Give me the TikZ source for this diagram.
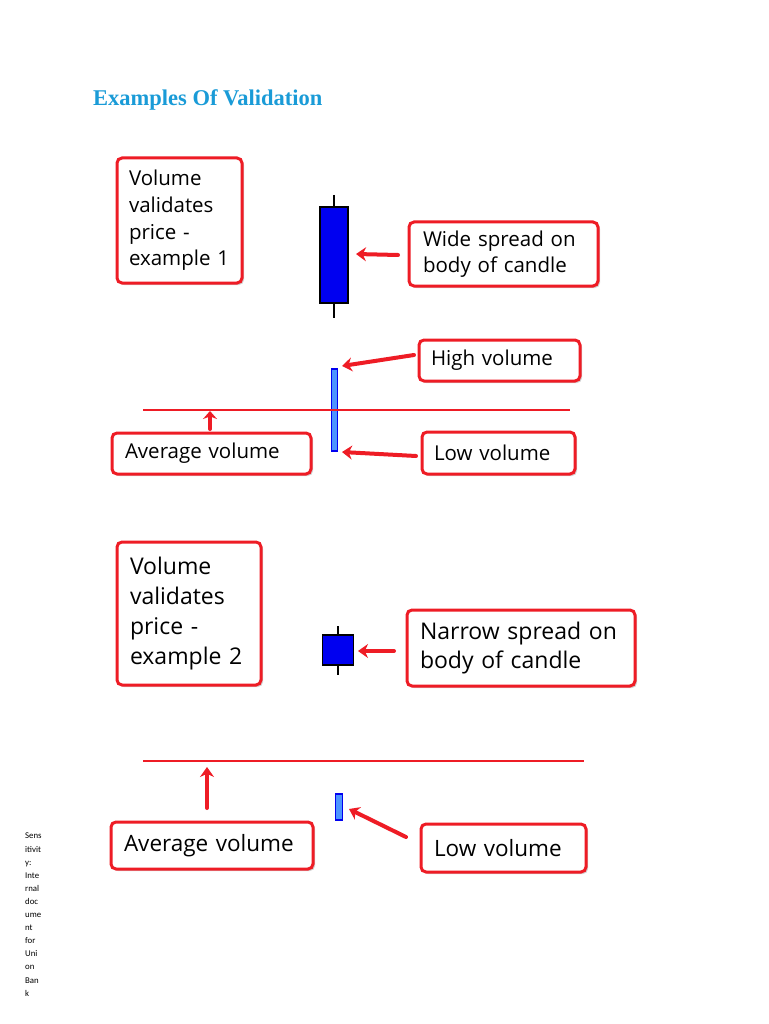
\documentclass[tikz,border=0pt]{standalone}
\usepackage{fontspec}
\setmainfont{Liberation Serif}
\newfontfamily\boxfont{Open Sans}
\newfontfamily\sidefont{Carlito}
\usetikzlibrary{shadows,arrows.meta}
\definecolor{titleblue}{HTML}{1A9BD7}
\definecolor{boxred}{HTML}{EE1C25}
\definecolor{candleblue}{HTML}{0000F0}
\tikzset{
  lbl/.style={draw=boxred, line width=3pt, rounded corners=5pt, fill=white,
    drop shadow={opacity=0.35, shadow xshift=2pt, shadow yshift=-2pt},
    font=\boxfont\fontsize{21.5}{27}\selectfont, align=left, inner sep=0pt, anchor=center},
  redarrow/.style={draw=boxred, line width=4pt, -{Stealth[length=10pt,width=14pt]}, line cap=round},
  avgline/.style={draw=boxred, line width=1.2pt},
  candle/.style={draw=black, line width=1.5pt, fill=candleblue},
  wick/.style={draw=black, line width=2pt},
  volbar/.style={draw=candleblue, line width=1.2pt, fill=blue!60!cyan!70},
}
\begin{document}
\begin{tikzpicture}[x=1pt,y=-1pt]
\useasboundingbox (0,0) rectangle (768,1024);
\node[anchor=west, text=titleblue, font=\bfseries\fontsize{22.5}{26}\selectfont, inner sep=0pt] (title) at (93,100) {Examples Of Validation};

% Example 1
\node[lbl, minimum width=125pt, minimum height=125pt, text width=101pt, font=\boxfont\fontsize{20.5}{26.7}\selectfont] (ex1) at (179.5,220.5) {Volume\\validates\\price -\\example\ 1};
\draw[wick] (334,195) -- (334,318);
\node[candle, minimum width=28pt, minimum height=96pt, inner sep=0pt] (c1) at (334,255) {};
\node[lbl, minimum width=189pt, minimum height=64pt, text width=161pt, font=\boxfont\fontsize{20.5}{26}\selectfont] (wide) at (503.5,254) {Wide spread on\\body of candle};
\coordinate (w1s) at (398,255);
\coordinate (c1r) at (356,254);
\draw[redarrow] (w1s) -- (c1r);

\node[lbl, minimum width=161pt, minimum height=41pt, text width=137pt, font=\boxfont\fontsize{20.5}{26}\selectfont] (high) at (499.5,360.5) {High volume};
\node[lbl, minimum width=199pt, minimum height=41pt, text width=173pt, font=\boxfont\fontsize{20.5}{26}\selectfont] (avg1) at (211.5,453.5) {Average volume};
\node[lbl, minimum width=153pt, minimum height=42pt, text width=129pt, font=\boxfont\fontsize{20.5}{26}\selectfont] (low1) at (498.5,453) {Low volume};
\coordinate (l1a) at (143,410);
\coordinate (l1b) at (570,410);
\node[volbar, minimum width=6pt, minimum height=82pt, inner sep=0pt] (v1) at (334.5,410) {};
\draw[avgline] (l1a) -- (l1b);
\coordinate (hs) at (414,355);
\coordinate (v1top) at (342,366);
\coordinate (ls) at (416,456);
\coordinate (v1bot) at (342,452);
\coordinate (a1s) at (210,429);
\coordinate (a1top) at (210,411);
\draw[redarrow] (hs) -- (v1top);
\draw[redarrow] (ls) -- (v1bot);
\draw[redarrow, -{Stealth[length=8pt,width=14pt]}] (a1s) -- (a1top);

% Example 2
\node[lbl, minimum width=144pt, minimum height=143pt, text width=118pt, font=\boxfont\fontsize{23}{30}\selectfont] (ex2) at (189,613.5) {Volume\\validates\\price -\\example 2};
\draw[wick] (338,626) -- (338,675);
\node[candle, minimum width=31pt, minimum height=30pt, inner sep=0pt] (c2) at (338,650) {};
\node[lbl, minimum width=228pt, minimum height=76pt, text width=202pt, font=\boxfont\fontsize{23}{29}\selectfont] (narrow) at (521,648) {Narrow spread on\\body of candle};
\coordinate (n2s) at (394,651);
\coordinate (c2r) at (358,651);
\draw[redarrow] (n2s) -- (c2r);

\coordinate (l2a) at (143,761);
\coordinate (l2b) at (584,761);
\draw[avgline, line width=2pt] (l2a) -- (l2b);
\node[lbl, minimum width=202pt, minimum height=47pt, text width=176pt, font=\boxfont\fontsize{22.5}{27}\selectfont] (avg2) at (212,845.5) {Average volume};
\node[lbl, minimum width=165pt, minimum height=48pt, text width=139pt, font=\boxfont\fontsize{22.5}{27}\selectfont] (low2) at (503.5,848) {Low volume};
\node[volbar, minimum width=7pt, minimum height=26pt, inner sep=0pt] (v2) at (339,807) {};
\coordinate (a2s) at (207,808);
\coordinate (a2top) at (207,767);
\coordinate (l2s) at (406,837);
\coordinate (v2r) at (349,809);
\draw[redarrow] (a2s) -- (a2top);
\draw[redarrow] (l2s) -- (v2r);

% Side note
\node[anchor=north west, font=\sidefont\fontsize{8.8}{13.1}\selectfont, align=left, inner sep=0pt] (side) at (25,833) {Sens\\itivit\\y:\\Inte\\rnal\\doc\\ume\\nt\\for\\Uni\\on\\Ban\\k};
\end{tikzpicture}
\end{document}
